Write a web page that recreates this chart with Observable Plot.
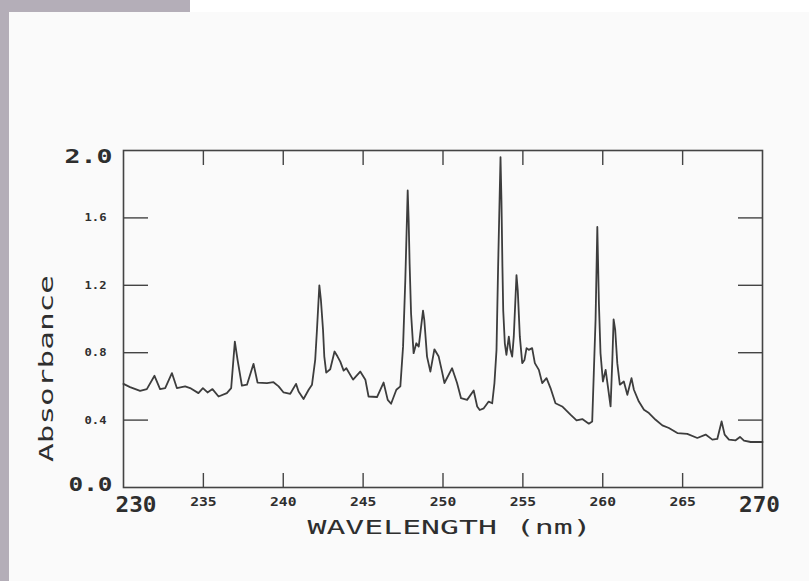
<!DOCTYPE html>
<html>
<head>
<meta charset="utf-8">
<script src="https://cdn.jsdelivr.net/npm/d3@7"></script>
<script src="https://cdn.jsdelivr.net/npm/@observablehq/plot@0.6"></script>
<style>
  html, body { margin: 0; padding: 0; background: #ffffff; }
  #wrap { position: relative; width: 809px; height: 581px; overflow: hidden; background: #ffffff; }
  #panel { position: absolute; left: 9px; top: 12px; right: 0; bottom: 0; background: #fafafa; }
  #stripL { position: absolute; left: 0; top: 0; width: 9px; height: 581px; background: #b4aeb8; }
  #stripT { position: absolute; left: 0; top: 0; width: 190px; height: 12px; background: #b4aeb8; }
  #chart { position: absolute; left: 0; top: 0; }
</style>
</head>
<body>
<div id="wrap">
  <div id="panel"></div>
  <div id="stripL"></div>
  <div id="stripT"></div>
  <div id="chart"></div>
</div>
<script>
// Spectrum
const wavelength = [230.0, 230.41, 231.04, 231.46, 231.94, 232.29, 232.61, 233.03, 233.34, 233.86,
  234.17, 234.69, 234.97, 235.26, 235.57, 235.95, 236.47, 236.74, 236.97, 237.14,
  237.41, 237.73, 238.14, 238.39, 238.98, 239.39, 239.71, 240.02, 240.44, 240.8,
  240.96, 241.27, 241.59, 241.8, 242.0, 242.11, 242.26, 242.36, 242.49, 242.57,
  242.69, 242.94, 243.21, 243.4, 243.57, 243.78, 243.95, 244.37, 244.82, 245.14,
  245.34, 245.87, 246.28, 246.54, 246.75, 247.08, 247.33, 247.5, 247.64, 247.79,
  247.85, 247.91, 248.0, 248.16, 248.33, 248.48, 248.75, 248.83, 249.0, 249.21,
  249.46, 249.73, 249.94, 250.09, 250.57, 250.88, 251.13, 251.51, 251.92, 252.14,
  252.3, 252.55, 252.86, 253.08, 253.22, 253.35, 253.45, 253.6, 253.66, 253.72,
  253.77, 253.87, 253.97, 254.12, 254.22, 254.33, 254.43, 254.6, 254.68, 254.81,
  254.96, 255.1, 255.23, 255.37, 255.58, 255.75, 256.0, 256.21, 256.48, 256.73,
  257.04, 257.46, 257.98, 258.36, 258.72, 259.13, 259.34, 259.44, 259.55, 259.66,
  259.76, 259.86, 260.01, 260.18, 260.32, 260.49, 260.6, 260.68, 260.78, 260.91,
  261.07, 261.32, 261.54, 261.8, 261.95, 262.26, 262.58, 262.89, 263.31, 263.73,
  264.14, 264.67, 265.29, 265.92, 266.44, 266.86, 267.17, 267.44, 267.63, 267.9,
  268.32, 268.59, 268.84, 269.26, 270];

const absorbance = [0.615, 0.596, 0.574, 0.584, 0.663, 0.584, 0.59, 0.679, 0.59, 0.60,
  0.59, 0.56, 0.59, 0.564, 0.584, 0.54, 0.56, 0.59, 0.866, 0.757,
  0.604, 0.61, 0.734, 0.623, 0.62, 0.625, 0.60, 0.564, 0.556, 0.615,
  0.57, 0.525, 0.58, 0.61, 0.757, 0.935, 1.2, 1.11, 0.935, 0.777,
  0.682, 0.702, 0.807, 0.777, 0.747, 0.694, 0.708, 0.64, 0.688, 0.64,
  0.54, 0.537, 0.623, 0.52, 0.497, 0.58, 0.60, 0.836, 1.23, 1.763,
  1.586, 1.33, 1.034, 0.797, 0.856, 0.836, 1.05, 0.994, 0.777, 0.688,
  0.82, 0.777, 0.688, 0.62, 0.708, 0.62, 0.53, 0.52, 0.576, 0.481,
  0.46, 0.47, 0.51, 0.50, 0.62, 0.817, 1.31, 1.96, 1.70, 1.31,
  1.05, 0.856, 0.787, 0.895, 0.817, 0.777, 0.895, 1.26, 1.17, 0.895,
  0.738, 0.757, 0.827, 0.817, 0.827, 0.738, 0.698, 0.62, 0.649, 0.59,
  0.50, 0.481, 0.432, 0.398, 0.406, 0.379, 0.392, 0.679, 0.994, 1.546,
  1.09, 0.797, 0.629, 0.698, 0.60, 0.481, 0.757, 0.998, 0.935, 0.738,
  0.61, 0.629, 0.55, 0.649, 0.58, 0.51, 0.462, 0.442, 0.402, 0.369,
  0.353, 0.323, 0.318, 0.294, 0.314, 0.284, 0.288, 0.392, 0.314, 0.284,
  0.28, 0.30, 0.278, 0.27, 0.27];

// Tick values and labels
const xInnerTicks = [235, 240, 245, 250, 255, 260, 265];
const xStartTick = [230];
const xEndTick = [270];
const yInnerTicks = [0.4, 0.8, 1.2, 1.6];
const yTopTick = [2.0];
const yBottomTick = [0.0];
const xTitle = ["WAVELENGTH (nm)"];
const yTitle = ["Absorbance"];

const spectrum = wavelength.map((w, i) => ({w, a: absorbance[i]}));

const ink = "#2e2e2e";
const fmt1 = d => d.toFixed(1);

const chart = Plot.plot({
  width: 809,
  height: 581,
  marginLeft: 123,
  marginRight: 47,
  marginTop: 150,
  marginBottom: 94,
  x: {domain: [230, 270]},
  y: {domain: [0, 2]},
  style: {background: "transparent", fontFamily: "DejaVu Sans Mono", color: ink},
  marks: [
    // inward ticks (no text)
    Plot.axisX(xInnerTicks, {anchor: "bottom", tickSize: -14, fill: "none", stroke: "#444", strokeWidth: 1.4, label: null}),
    Plot.axisX(xInnerTicks, {anchor: "top", tickSize: -14, fill: "none", stroke: "#444", strokeWidth: 1.4, label: null}),
    Plot.axisY(yInnerTicks, {anchor: "left", tickSize: -25, fill: "none", stroke: "#444", strokeWidth: 1.4, label: null}),
    Plot.axisY(yInnerTicks, {anchor: "right", tickSize: -25, fill: "none", stroke: "#444", strokeWidth: 1.4, label: null}),
    // tick labels
    Plot.axisX(xInnerTicks, {anchor: "bottom", tickSize: 0, tickPadding: 9.5, fontSize: 13, fontWeight: "bold", fill: ink, label: null}),
    Plot.axisX(xStartTick, {anchor: "bottom", tickSize: 0, tickPadding: 9, dx: -8, textAnchor: "start", fontSize: 22, fontWeight: "bold", fill: ink, label: null}),
    Plot.axisX(xEndTick, {anchor: "bottom", tickSize: 0, tickPadding: 9, dx: -3, fontSize: 22, fontWeight: "bold", fill: ink, label: null}),
    Plot.axisY(yInnerTicks, {anchor: "left", tickSize: 0, tickPadding: 17, fontSize: 11, fontWeight: "bold", fill: ink, tickFormat: fmt1, label: null}),
    Plot.axisY(yTopTick, {anchor: "left", tickSize: 0, tickPadding: 11, dy: 6, fontSize: 19, fontWeight: "bold", fill: ink, tickFormat: fmt1, label: null}),
    Plot.axisY(yBottomTick, {anchor: "left", tickSize: 0, tickPadding: 11, dy: -3, fontSize: 19.5, fontWeight: "bold", fill: ink, tickFormat: fmt1, label: null}),
    // axis titles
    Plot.text(xTitle, {frameAnchor: "bottom", textAnchor: "middle", dy: 46, dx: 6.5, fontSize: 19.8, fill: ink}),
    Plot.text(yTitle, {frameAnchor: "left", textAnchor: "middle", rotate: -90, dx: -77, dy: 49.5, fontSize: 20, fill: ink}),
    // frame and spectrum
    Plot.frame({stroke: "#444", strokeWidth: 1.6}),
    Plot.line(spectrum, {x: "w", y: "a", stroke: "#3d3d3d", strokeWidth: 1.8, strokeLinejoin: "round"})
  ]
});

// widen the glyphs like the plotter font of the original
const textWidths = {"11": 22, "13": 26.5, "22": 41, "19": 48, "19.5": 44, "19.8": 284, "20": 187};
d3.select(chart).selectAll("g[font-size]").each(function() {
  const L = textWidths[this.getAttribute("font-size")];
  if (L) d3.select(this).selectAll("text").attr("textLength", L).attr("lengthAdjust", "spacingAndGlyphs");
});

document.getElementById("chart").appendChild(chart);
</script>
</body>
</html>
